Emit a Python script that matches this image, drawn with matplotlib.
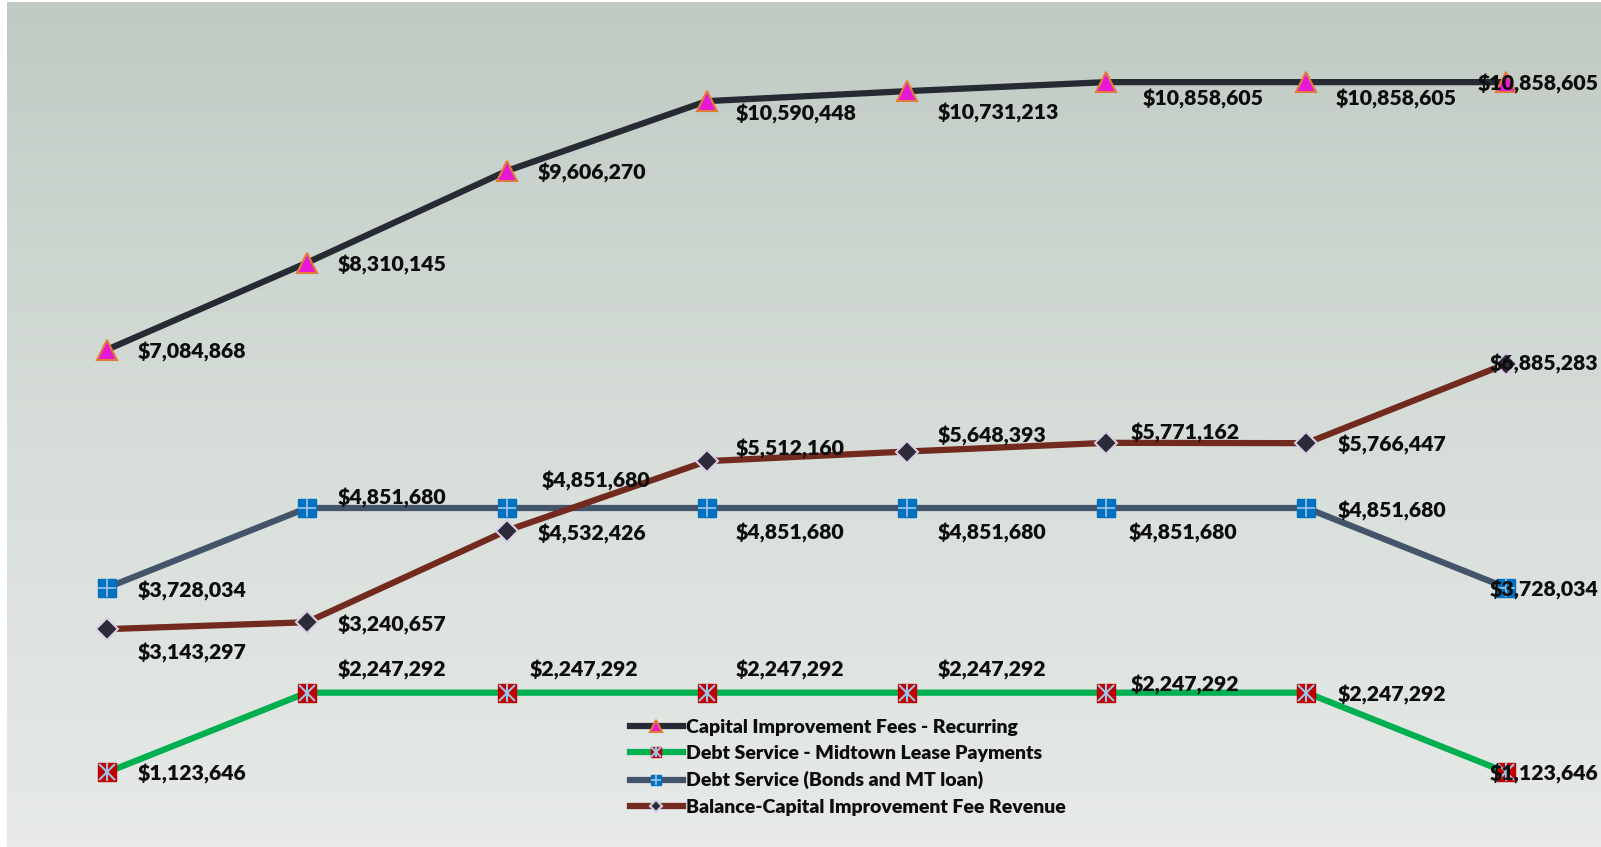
"""Capital improvement fees vs debt service, recreated line chart."""
import numpy as np
import matplotlib as mpl
mpl.use('Agg')
import matplotlib.pyplot as plt
from matplotlib.colors import LinearSegmentedColormap

# data
periods = list(range(8))
capital = [7084868, 8310145, 9606270, 10590448, 10731213, 10858605, 10858605, 10858605]
midtown = [1123646, 2247292, 2247292, 2247292, 2247292, 2247292, 2247292, 1123646]
bonds = [3728034, 4851680, 4851680, 4851680, 4851680, 4851680, 4851680, 3728034]
balance = [3143297, 3240657, 4532426, 5512160, 5648393, 5771162, 5766447, 6885283]
names = ['Capital Improvement Fees - Recurring',
         'Debt Service - Midtown Lease Payments',
         'Debt Service (Bonds and MT loan)',
         'Balance-Capital Improvement Fee Revenue']

# label offsets in pixels (dx, dy; dy up)
cap_off = [(31, 0), (31, 0), (31, 0), (29, -11), (31, -20), (36, -15), (29, -15), (92, 0)]
mid_off = [(31, 0), (31, 25), (23, 25), (29, 25), (31, 25), (24, 10), (31, 0), (92, 0)]
bond_off = [(31, -1), (31, 12), (35, 29), (29, -23), (31, -23), (22, -23), (31, -1), (92, 0)]
bal_off = [(31, -22), (31, -1), (31, -1), (29, 14), (31, 18), (24, 12), (31, 0), (92, 2)]

W, H = 1601, 847
FONT = 'Lato'
fig = plt.figure(figsize=(W / 100, H / 100), dpi=100)

# gradient plot area
bg = fig.add_axes([7 / W, 0, 1 - 7 / W, 1 - 2 / H])
grad = np.linspace(0, 1, 256).reshape(-1, 1)
cmap = LinearSegmentedColormap.from_list('bg', ['#c0cac3', '#d6ddd8', '#e7eae8'])
bg.imshow(grad, aspect='auto', cmap=cmap, extent=(0, 1, 0, 1), origin='upper')
bg.axis('off')

ax = fig.add_axes([0, 0, 1, 1])
ax.set_facecolor('none')
ax.axis('off')
ax.set_xlim(-0.535, 7.474)
ax.set_ylim(0.0705e6, 12.017e6)

l1, = ax.plot(periods, capital, color='#262b33', lw=4.5, marker='^', ms=15,
              mfc='#e818d6', mec='#e07b39', mew=1.5, zorder=3)

l2, = ax.plot(periods, midtown, color='#00b050', lw=4.5, marker='s', ms=13,
              mfc='#c00000', mec='#c00000', zorder=3)
l2x, = ax.plot(periods, midtown, ls='none', marker='x', ms=12, mec='#9dc3e6',
               mew=1.5, zorder=4)
l2v, = ax.plot(periods, midtown, ls='none', marker='|', ms=13, mec='#9dc3e6',
               mew=1.5, zorder=4)

l3, = ax.plot(periods, bonds, color='#44546a', lw=4.5, marker='s', ms=13,
              mfc='#0070c0', mec='#0070c0', zorder=3)
l3p, = ax.plot(periods, bonds, ls='none', marker='+', ms=13, mec='#9dc3e6',
               mew=1.2, zorder=4)

l4, = ax.plot(periods, balance, color='#722a1e', lw=4.5, marker='D', ms=11,
              mfc='#2d2b3a', mec='#d9cfe6', mew=1.5, zorder=3)

for vals, offs in [(capital, cap_off), (midtown, mid_off),
                   (bonds, bond_off), (balance, bal_off)]:
    for i, v in enumerate(vals):
        dx, dy = offs[i]
        ha = 'right' if i == len(vals) - 1 else 'left'
        ax.annotate('${:,}'.format(v), (periods[i], v), xytext=(dx, dy - 2),
                    textcoords='offset pixels', ha=ha, va='center',
                    fontsize=15.3, fontweight='heavy', family=FONT,
                    color='#0d0d0d', zorder=6)

leg = ax.legend([l1, (l2, l2x, l2v), (l3, l3p), l4], names,
                loc='upper left', bbox_to_anchor=(630 / W, 1 - 719 / H),
                frameon=False, borderpad=0, borderaxespad=0, markerscale=0.6,
                handlelength=2.7, handletextpad=0.2, labelspacing=0.47,
                prop={'family': FONT, 'weight': 'heavy', 'size': 14})
for t in leg.get_texts():
    t.set_color('#0d0d0d')

plt.savefig('out.png', dpi=100)
plt.close()
